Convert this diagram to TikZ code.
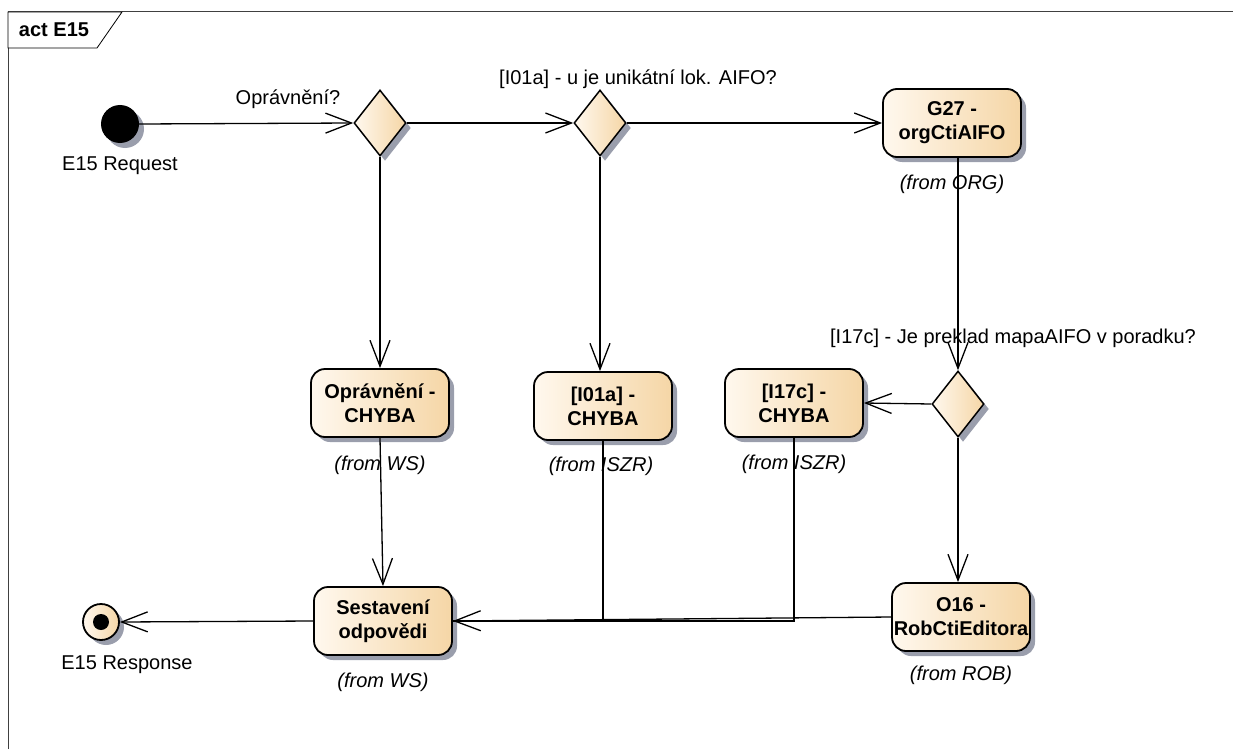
\documentclass[tikz,border=0pt]{standalone}
\usepackage{fontspec}
\setmainfont{Liberation Sans}
\usetikzlibrary{shapes.geometric,arrows.meta,shadows}
\definecolor{actL}{HTML}{FFF8EE}
\definecolor{actR}{HTML}{F5D6A6}
\definecolor{shad}{HTML}{9A9EAC}
\begin{document}
\begin{tikzpicture}[x=1pt,y=-1pt,
  font=\fontsize{20}{23}\selectfont,
  arr/.style={-{Straight Barb[length=26pt,width=20pt,line width=1.3pt]}, line width=1.3pt},
  conn/.style={line width=1.3pt},
  sh/.style={drop shadow={shadow xshift=5pt, shadow yshift=-5pt, fill=shad, opacity=1}},
  act/.style={draw, line width=1.8pt, rounded corners=14pt, minimum width=138pt, minimum height=68pt,
    left color=actL, right color=actR, align=center, inner sep=0pt, sh,
    font=\fontsize{20}{24}\selectfont\bfseries},
  dec/.style={diamond, draw, line width=1.5pt, minimum width=52pt, minimum height=66pt, inner sep=0pt,
    left color=actL, right color=actR, sh},
  fromlbl/.style={font=\fontsize{20}{23}\selectfont\itshape, inner sep=0pt},
  lbl/.style={inner sep=0pt},
]
\useasboundingbox (0,0) rectangle (1233,749);
% frame
\draw[black!75, line width=1pt] (8,749) -- (8,12) -- (1233,12);
\draw[line width=0.8pt, fill=white] (8,12) -- (122,12) -- (97,48) -- (8,48) -- cycle;
\node[lbl, font=\fontsize{20}{23}\selectfont\bfseries] (title) at (54,30) {act E15};

% nodes
\node[circle, fill=black, minimum size=38pt, inner sep=0pt, sh] (init) at (120,124) {};
\node[lbl] (initl) at (120,166) {E15 Request};

\node[dec] (d1) at (380,123) {};
\node[lbl] (d1l) at (288,99) {Oprávnění?};

\node[dec] (d2) at (600,123) {};
\node[lbl] (d2l) at (638,79) {[I01a] - u je unikátní lok. AIFO?};

\node[act] (g27) at (952,123) {G27 -\\orgCtiAIFO};
\node[fromlbl] (g27f) at (952,184) {(from ORG)};

\node[dec] (d3) at (958,404) {};
\node[lbl] (d3l) at (1013,338) {[I17c] - Je preklad mapaAIFO v poradku?};

\node[act] (opr) at (380,403) {Oprávnění -\\CHYBA};
\node[fromlbl] (oprf) at (380,465) {(from WS)};

\node[act] (i01) at (603,406) {[I01a] -\\CHYBA};
\node[fromlbl] (i01f) at (601,466) {(from ISZR)};

\node[act] (i17) at (794,403) {[I17c] -\\CHYBA};
\node[fromlbl] (i17f) at (794,464) {(from ISZR)};

\node[act] (ses) at (383,621) {Sestavení\\odpovědi};
\node[fromlbl] (sesf) at (383,682) {(from WS)};

\node[act] (o16) at (961,617) {O16 -\\RobCtiEditora};
\node[fromlbl] (o16f) at (961,675) {(from ROB)};

\node[circle, draw, line width=1.8pt, minimum size=36pt, inner sep=0pt, left color=actL, right color=actR, sh] (fin) at (101,622) {};
\node[circle, fill=black, minimum size=16pt, inner sep=0pt] (findot) at (fin) {};
\node[lbl] (finl) at (127,665) {E15 Response};

% connectors
\draw[arr] (init.east) -- (d1.west);
\draw[arr] (d1.east) -- (d2.west);
\draw[arr] (d2.east) -- (g27.west);
\draw[arr] (d1.south) -- (opr.north);
\draw[arr] (d2.south) -- (d2.south |- i01.north);
\draw[arr] (g27.south -| d3.north) -- (d3.north);
\draw[arr] (d3.west) -- (i17.east);
\draw[arr] (d3.south) -- (d3.south |- o16.north);
\draw[arr] (opr.south) -- (ses.north);
\draw[conn] (i01.south) -- (i01.south |- ses.east) -- (ses.east);
\draw[conn] (i17.south) -- (i17.south |- ses.east) -- (ses.east);
\draw[arr] (o16.west) -- (ses.east);
\draw[arr] (ses.west) -- (fin.east);
\end{tikzpicture}
\end{document}
